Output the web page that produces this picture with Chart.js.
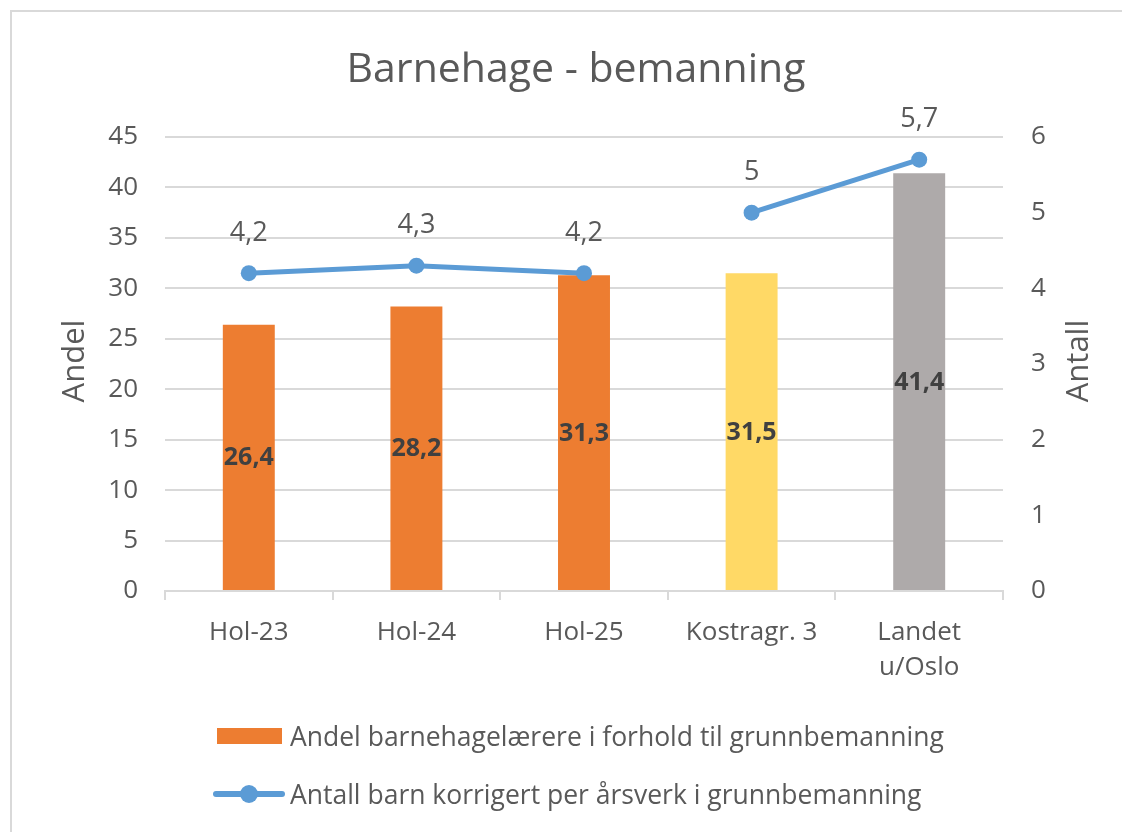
<!DOCTYPE html>
<html>
<head>
<meta charset="utf-8">
<script src="https://cdn.jsdelivr.net/npm/chart.js@4.4.1/dist/chart.umd.min.js"></script>
<style>
  html, body { margin: 0; padding: 0; background: #fff; }
  #wrap { position: relative; width: 1122px; height: 832px; overflow: hidden; }
  #frame { position: absolute; left: 10px; top: 10px; width: 1130px; height: 840px;
           border: 2px solid #d9d9d9; pointer-events: none; }
  canvas { position: absolute; left: 0; top: 0; }
  .leg { position: absolute; left: 213px; font-family: "Open Sans", sans-serif;
         font-size: 26.5px; color: #595959; display: flex; align-items: center; white-space: nowrap; }
  .leg .box { width: 65px; height: 16px; background: #ED7D31; margin: 0 8px 0 4px; }
  .leg .ln { position: relative; width: 72px; height: 6px; background: #5B9BD5; margin-right: 5px; border-radius: 3px; }
  .leg .ln i { position: absolute; left: 27px; top: -6px; width: 18px; height: 18px; border-radius: 50%; background: #5B9BD5; }
</style>
</head>
<body>
<div id="wrap">
  <canvas id="chart" width="1122" height="832"></canvas>
  <div id="frame"></div>
  <div class="leg" style="top:718px"><span class="box"></span><span>Andel barnehagelærere i forhold til grunnbemanning</span></div>
  <div class="leg" style="top:776px"><span class="ln"><i></i></span><span>Antall barn korrigert per årsverk i grunnbemanning</span></div>
</div>
<script>
/* data */
var CATEGORIES = ['Hol-23', 'Hol-24', 'Hol-25', 'Kostragr. 3', ['Landet', 'u/Oslo']];
var ANDEL      = [26.4, 28.2, 31.3, 31.5, 41.4];
var ANTALL     = [4.2, 4.3, 4.2, 5, 5.7];
var BAR_COLORS = ['#ED7D31', '#ED7D31', '#ED7D31', '#FFD966', '#AEAAAA'];
var GAP_AFTER  = 2; // line is broken between Hol-25 and Kostragr. 3

var TXT = '#595959';
var FONT = '"Open Sans", sans-serif';

function fmt(v) { return String(v).replace('.', ','); }

/* chart title, value labels + rotated axis titles */
var labelsPlugin = {
  id: 'valueLabels',
  afterDatasetsDraw: function(chart) {
    var ctx = chart.ctx;
    ctx.save();
    ctx.textAlign = 'center';
    ctx.textBaseline = 'middle';

    ctx.font = '41px ' + FONT;
    ctx.fillStyle = TXT;
    ctx.fillText('Barnehage - bemanning', 576, 70);

    var barMeta = chart.getDatasetMeta(0);
    ctx.font = 'bold 25px ' + FONT;
    ctx.fillStyle = '#404040';
    barMeta.data.forEach(function(el, i) {
      ctx.fillText(fmt(ANDEL[i]), el.x, (el.y + el.base) / 2 + 1);
    });

    var lineMeta = chart.getDatasetMeta(1);
    ctx.font = '27px ' + FONT;
    ctx.fillStyle = TXT;
    lineMeta.data.forEach(function(el, i) {
      ctx.fillText(fmt(ANTALL[i]), el.x, el.y - 40);
    });

    var ca = chart.chartArea;
    var midY = (ca.top + ca.bottom) / 2 - 3;
    ctx.font = '31px ' + FONT;
    [['Andel', 75], ['Antall', 1079]].forEach(function(t) {
      ctx.save();
      ctx.translate(t[1], midY);
      ctx.rotate(-Math.PI / 2);
      ctx.fillText(t[0], 0, 0);
      ctx.restore();
    });
    ctx.restore();
  }
};

new Chart(document.getElementById('chart'), {
  data: {
    labels: CATEGORIES,
    datasets: [
      {
        type: 'bar',
        label: 'Andel barnehagelærere i forhold til grunnbemanning',
        data: ANDEL,
        backgroundColor: BAR_COLORS,
        yAxisID: 'y',
        categoryPercentage: 1,
        barPercentage: 0.31,
        order: 2
      },
      {
        type: 'line',
        label: 'Antall barn korrigert per årsverk i grunnbemanning',
        data: ANTALL,
        yAxisID: 'y1',
        borderColor: '#5B9BD5',
        backgroundColor: '#5B9BD5',
        borderWidth: 5,
        pointRadius: 8,
        pointHoverRadius: 8,
        pointBorderWidth: 0,
        tension: 0,
        segment: {
          borderColor: function(c) { return c.p0DataIndex === GAP_AFTER ? 'rgba(0,0,0,0)' : undefined; }
        },
        order: 1
      }
    ]
  },
  options: {
    responsive: false,
    animation: false,
    layout: { padding: { left: 0, right: 0, top: 137, bottom: 141 } },
    plugins: {
      legend: { display: false },
      tooltip: { enabled: false },
      title: { display: false }
    },
    scales: {
      x: {
        offset: true,
        grid: { offset: true, drawOnChartArea: false, color: '#d9d9d9', lineWidth: 2, tickLength: 9 },
        border: { color: '#d9d9d9', width: 2 },
        ticks: { color: TXT, font: { family: FONT, size: 26, lineHeight: 1.35 }, padding: 15, maxRotation: 0, autoSkip: false },
        afterFit: function(s) { s.height = 100; }
      },
      y: {
        position: 'left',
        min: 0, max: 45,
        ticks: { stepSize: 5, color: TXT, font: { family: FONT, size: 26 }, padding: 27 },
        grid: { color: '#d9d9d9', lineWidth: 2, drawTicks: false },
        border: { display: false },
        afterFit: function(s) { s.width = 165; }
      },
      y1: {
        position: 'right',
        min: 0, max: 6,
        ticks: { stepSize: 1, color: TXT, font: { family: FONT, size: 26 }, padding: 28 },
        grid: { drawOnChartArea: false, drawTicks: false },
        border: { display: false },
        afterFit: function(s) { s.width = 119; }
      }
    }
  },
  plugins: [labelsPlugin]
});
</script>
</body>
</html>
